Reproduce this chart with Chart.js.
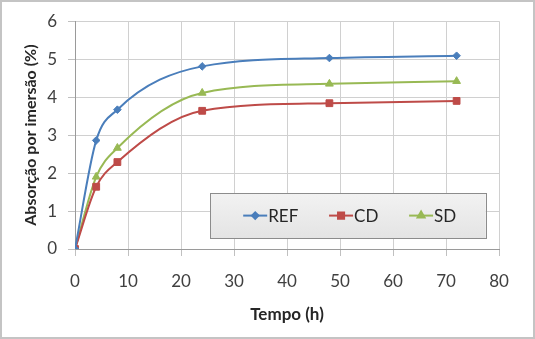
<!DOCTYPE html>
<html>
<head>
<meta charset="utf-8">
<script src="https://cdn.jsdelivr.net/npm/chart.js@4"></script>
<style>
  html, body { margin: 0; padding: 0; background: #fff; }
  #wrap { position: relative; width: 535px; height: 339px; }
  #frame { position: absolute; inset: 0; border: 2px solid #c4c4c4; box-sizing: border-box; pointer-events: none; }
</style>
</head>
<body>
<div id="wrap">
  <canvas id="c" width="535" height="339"></canvas>
  <div id="frame"></div>
</div>
<script>
// Absorção por imersão vs tempo, three mixes
const hours = [0, 4, 8, 24, 48, 72];
const refVals = [0, 2.86, 3.67, 4.81, 5.03, 5.09];
const cdVals = [0, 1.64, 2.29, 3.64, 3.84, 3.90];
const sdVals = [0, 1.90, 2.66, 4.11, 4.35, 4.42];
const seriesNames = ["REF", "CD", "SD"];
const xTitle = "Tempo (h)";
const yTitle = "Absorção por imersão (%)";

const FONT = "Lato, 'Open Sans', sans-serif";
const colors = ["#4a7ebb", "#be4b48", "#98b954"];
const shapes = ["rectRot", "rect", "triangle"];
const radii = [3.8, 4.8, 4.5];

const pts = (vals) => hours.map((h, i) => ({ x: h, y: vals[i] }));

const mkSet = (label, vals, i) => ({
  label,
  data: pts(vals),
  borderColor: colors[i],
  backgroundColor: colors[i],
  borderWidth: 2,
  pointStyle: shapes[i],
  pointRadius: radii[i],
  pointBorderWidth: 1,
  pointBorderColor: colors[i],
  cubicInterpolationMode: "monotone",
});

// legend box drawn inside the plot, like the original
const boxLegend = {
  id: "boxLegend",
  afterDraw(chart) {
    const { ctx, scales: { x, y } } = chart;
    const left = x.getPixelForValue(25.5), right = x.getPixelForValue(77.5);
    const top = y.getPixelForValue(1.47), bottom = y.getPixelForValue(0.29);
    ctx.save();
    const g = ctx.createLinearGradient(0, top, 0, bottom);
    g.addColorStop(0, "#f2f2f2");
    g.addColorStop(1, "#e4e4e4");
    ctx.fillStyle = g;
    ctx.fillRect(left, top, right - left, bottom - top);
    ctx.strokeStyle = "#8c8c8c";
    ctx.lineWidth = 1;
    ctx.strokeRect(Math.round(left) + 0.5, Math.round(top) + 0.5, Math.round(right - left), Math.round(bottom - top));
    const cy = (top + bottom) / 2;
    const starts = [x.getPixelForValue(34), x.getPixelForValue(50.2), x.getPixelForValue(65.3)];
    ctx.font = `17px ${FONT}`;
    ctx.textBaseline = "middle";
    chart.data.datasets.forEach((ds, i) => {
      const sx = starts[i];
      ctx.strokeStyle = colors[i];
      ctx.lineWidth = 2;
      ctx.beginPath();
      ctx.moveTo(sx - 12, cy);
      ctx.lineTo(sx + 12, cy);
      ctx.stroke();
      Chart.helpers.drawPoint(ctx, { pointStyle: shapes[i], radius: radii[i] - 0.5, rotation: 0, borderWidth: 1 }, sx, cy);
      ctx.fillStyle = colors[i];
      ctx.fill();
      ctx.fillStyle = "#262626";
      ctx.textAlign = "left";
      ctx.fillText(ds.label, sx + 13, cy + 1);
    });
    ctx.restore();
  },
};

new Chart(document.getElementById("c"), {
  type: "line",
  data: {
    datasets: [
      mkSet(seriesNames[0], refVals, 0),
      mkSet(seriesNames[1], cdVals, 1),
      mkSet(seriesNames[2], sdVals, 2),
    ],
  },
  options: {
    responsive: false,
    animation: false,
    layout: { padding: { top: 21, right: 36, left: 0, bottom: 0 } },
    plugins: { legend: { display: false }, tooltip: { enabled: false } },
    scales: {
      x: {
        type: "linear",
        min: 0,
        max: 80,
        ticks: { stepSize: 10, color: "#404040", font: { family: FONT, size: 17 }, padding: 15 },
        grid: { color: "#d0d0d0", tickLength: 7, tickColor: "#c0c0c0" },
        border: { color: "#9a9a9a" },
        title: { display: true, text: xTitle, color: "#262626", font: { family: FONT, size: 17, weight: "bold" }, padding: { top: 0, bottom: 14 } },
        afterFit: (s) => { s.height = 90; },
      },
      y: {
        min: 0,
        max: 6,
        ticks: { stepSize: 1, color: "#404040", font: { family: FONT, size: 17 }, padding: 11 },
        grid: { color: "#d0d0d0", tickLength: 7, tickColor: "#c0c0c0" },
        border: { color: "#9a9a9a" },
        title: { display: true, text: yTitle, color: "#262626", font: { family: FONT, size: 16, weight: "bold" }, padding: { top: 21, bottom: 0 } },
        afterFit: (s) => { s.width = 75; },
      },
    },
  },
  plugins: [boxLegend],
});
</script>
</body>
</html>
